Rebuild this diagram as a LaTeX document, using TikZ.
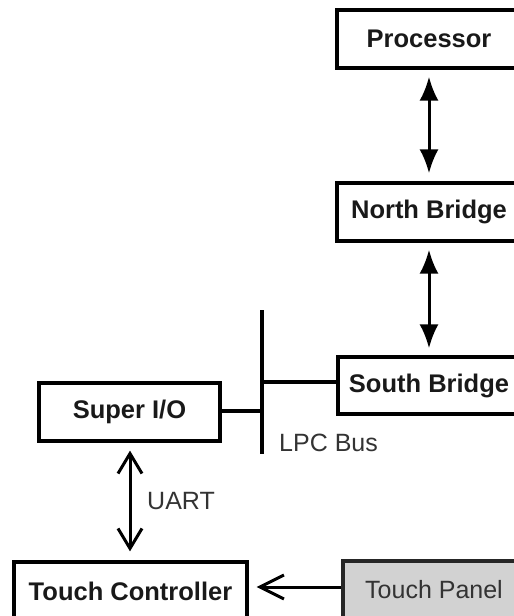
\documentclass[tikz,border=0pt]{standalone}
\usepackage{fontspec}
\setmainfont{Liberation Sans}
\usetikzlibrary{arrows.meta}
\definecolor{panelgray}{HTML}{D2D2D2}
\definecolor{labelgray}{HTML}{333333}
\begin{document}
\begin{tikzpicture}[x=1pt,y=-1pt,
  box/.style={draw=black,line width=3.2pt,inner sep=0pt,font=\fontsize{25.5}{29}\selectfont\bfseries,text=black!90},
  panel/.style={draw=black!85,line width=3.2pt,fill=panelgray,inner sep=0pt,font=\fontsize{25}{29}\selectfont,text=labelgray},
  lbl/.style={font=\fontsize{25}{29}\selectfont,text=labelgray,inner sep=0pt,anchor=west},
  fatarrow/.style={line width=3pt,{Latex[length=24pt,width=19pt]}-{Latex[length=24pt,width=19pt]}},
  openhead/.style={line width=3pt},
  busline/.style={line width=3.4pt}]
\useasboundingbox (0,0) rectangle (514,616);
\clip (0,0) rectangle (514,616);
\node[box,minimum width=184pt,minimum height=58pt] (proc) at (429,39) {Processor};
\node[box,minimum width=184pt,minimum height=58pt] (nb) at (429,212) {North Bridge};
\node[box,minimum width=182pt,minimum height=57pt] (sb) at (429,385.5) {South Bridge};
\node[box,minimum width=181pt,minimum height=58pt] (sio) at (129.5,412) {Super I/O};
\node[box,minimum width=233pt,minimum height=58pt] (tc) at (130.5,591) {Touch Controller};
\node[panel,minimum width=182pt,minimum height=58pt] (tp) at (434,590) {Touch Panel};
\coordinate (bustop) at (262,310);
\coordinate (busbot) at (262,454);
\coordinate (bussb) at (262,382);
\coordinate (bussio) at (262,411);
\draw[busline] (bustop) -- (busbot);
\draw[busline] (bussb) -- (bussb -| sb.west);
\draw[busline] (sio.east |- bussio) -- (bussio);
\draw[fatarrow,shorten <=7pt,shorten >=8pt] (proc) -- (nb);
\draw[fatarrow,shorten <=7pt,shorten >=7pt] (nb) -- (sb);
\draw[openhead,{Straight Barb[length=20pt,width=24pt,line width=3pt]}-{Straight Barb[length=20pt,width=24pt,line width=3pt]},shorten <=8pt,shorten >=9pt] (sio.south -| 130,0) -- (tc.north -| 130,0);
\draw[openhead,-{Straight Barb[length=24pt,width=24pt,line width=3pt]},shorten >=8pt] (tp.west |- 0,587) -- (tc.east |- 0,587);
\node[lbl] (lpc) at (279,443) {LPC Bus};
\node[lbl] (uart) at (147,501) {UART};
\end{tikzpicture}
\end{document}
